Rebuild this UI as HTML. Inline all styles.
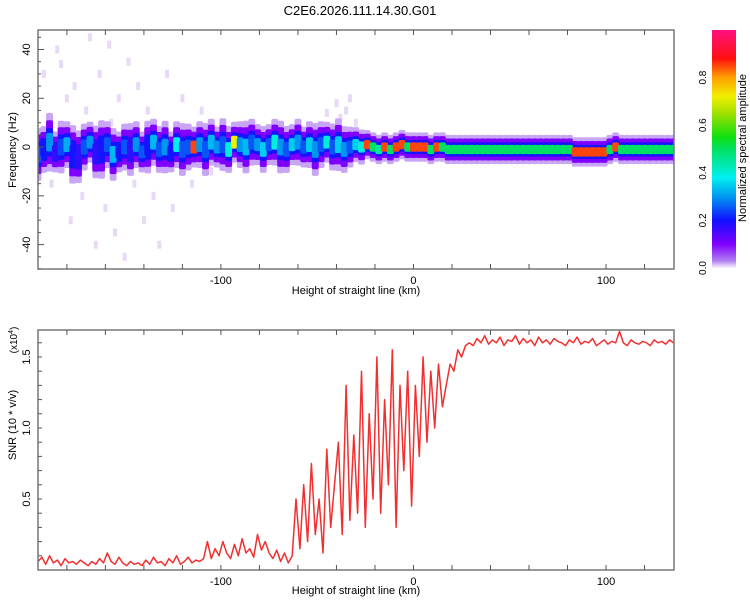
<!DOCTYPE html>
<html><head><meta charset="utf-8"><style>
body{margin:0;background:#fff;width:750px;height:600px;overflow:hidden;font-family:"Liberation Sans",sans-serif}
svg text{font-family:"Liberation Sans",sans-serif;fill:#000}
</style></head><body>
<svg id="c" width="750" height="600" xmlns="http://www.w3.org/2000/svg">
<defs><linearGradient id="cb" x1="0" y1="1" x2="0" y2="0">
<stop offset="0" stop-color="#fbf6ff"/><stop offset="0.03" stop-color="#b080f0"/><stop offset="0.1" stop-color="#8000ff"/>
<stop offset="0.2" stop-color="#1010ff"/><stop offset="0.3" stop-color="#0098f0"/><stop offset="0.38" stop-color="#00f0f0"/>
<stop offset="0.5" stop-color="#00e060"/><stop offset="0.55" stop-color="#10e010"/><stop offset="0.65" stop-color="#a0e000"/>
<stop offset="0.72" stop-color="#f0f000"/><stop offset="0.8" stop-color="#ffa000"/><stop offset="0.88" stop-color="#ff1010"/>
<stop offset="1" stop-color="#ff1080"/></linearGradient>
<clipPath id="clipTop"><rect x="38" y="30" width="636" height="239"/></clipPath>
<clipPath id="clipBot"><rect x="38" y="330" width="636" height="240"/></clipPath></defs>
<text x="360" y="15" font-size="13" text-anchor="middle">C2E6.2026.111.14.30.G01</text>
<g id="topPlot" clip-path="url(#clipTop)"></g>
<g id="botPlot" clip-path="url(#clipBot)"></g>
<g id="axes"></g>
<rect x="712" y="30" width="24" height="238" fill="url(#cb)"/>
<text transform="translate(746,148) rotate(-90)" font-size="11" text-anchor="middle">Normalized spectral amplitude</text>
<text transform="translate(16,150) rotate(-90)" font-size="11" text-anchor="middle">Frequency (Hz)</text>
<text x="356" y="294" font-size="11" text-anchor="middle">Height of straight line (km)</text>
<text transform="translate(16,425) rotate(-90)" font-size="11" text-anchor="middle">SNR (10 * v/v)</text>
<text transform="translate(17,340) rotate(-90)" font-size="10" text-anchor="middle">(x10<tspan dy="-4" font-size="7">4</tspan><tspan dy="4">)</tspan></text>
<text x="356" y="594" font-size="11" text-anchor="middle">Height of straight line (km)</text>
</svg>
<script>
const specHeights0 = -195, specStep = 3;
const specAmp = [0.25,0.2,0.3,0.18,0.24,0.32,0.2,0.18,0.25,0.3,0.18,0.2,0.25,0.33,0.2,0.25,0.18,0.3,0.25,0.2,0.33,0.25,0.3,0.2,0.38,0.25,0.25,0.85,0.3,0.25,0.33,0.3,0.25,0.4,0.7,0.3,0.33,0.25,0.3,0.35,0.25,0.4,0.3,0.25,0.35,0.3,0.25,0.35,0.3,0.25,0.4,0.25,0.35,0.3,0.25,0.35,0.4,
0.85,0.5,0.45,0.85,0.5,0.85,0.85,0.5,0.85,0.85,0.85,0.5,0.85,0.5,
0.5,0.5,0.5,0.5,0.5,0.5,0.5,0.5,0.5,0.5,0.5,0.5,0.5,0.5,0.5,0.5,0.5,0.5,0.5,0.5,0.5,0.5,
0.85,0.85,0.85,0.85,0.85,0.85,0.5,0.85,0.5,0.5,0.5,0.5,0.5,0.5,0.5,0.5,0.5,0.5];
const specCenter = [-3,-1,2,-2,0,1,-3,-4,0,2,-2,-1,1,-3,-2,0,-1,1,-2,0,2,-1,0,-2,1,-1,0,0,1,-1,2,0,1,-1,2,1,0,2,1,-1,1,2,0,-1,1,2,0,1,-1,1,2,0,1,-1,0,1,0,
1,0,-1,0,-1,0,1,0,0,0,0,-1,0,0,-1,-1,-1,-1,-1,-1,-1,-1,-1,-1,-1,-1,-1,-1,-1,-1,-1,-1,-1,-1,-1,-1,-2,-2,-2,-2,-2,-2,-1,0,-1,-1,-1,-1,-1,-1,-1,-1,-1,-1];
const specSpread = [9,8,10,7,9,8,10,9,8,7,9,10,8,9,7,8,9,8,7,9,8,8,9,7,8,9,8,7,8,9,8,7,9,8,7,8,9,8,7,8,7,8,9,8,7,8,7,8,9,8,7,8,9,8,7,6,6,
5,5,5,5,5,5,5,5,5,5,5,5,5,5,5,5,5,5,5,5,5,5,5,5,5,5,5,5,5,5,5,5,5,5,5,5,5,5,5,5,5,5,5,5,5,5,5,5,5,5,5,5,5,5];
const faintH = [-192,-188,-185,-183,-180,-178,-176,-172,-170,-168,-165,-163,-160,-158,-157,-155,-153,-150,-148,-145,-143,-140,-138,-135,-132,-128,-125,-120,-115,-110,-105,-35,-33,-38,-30,-40,-45];
const faintF = [30,-15,40,34,20,-30,25,-20,15,45,-40,30,-25,42,10,-35,20,-45,35,-15,25,-30,15,-20,-40,30,-25,20,-15,15,-10,15,20,12,10,18,14];
const snrStart = -195, snrStep = 2;
const snrValues = [0.06,0.09,0.04,0.1,0.05,0.07,0.03,0.08,0.05,0.06,0.04,0.07,0.05,0.03,0.06,0.04,0.08,0.05,0.12,0.06,0.04,0.09,0.05,0.03,0.06,0.04,0.05,0.03,0.07,0.04,0.09,0.05,0.06,0.03,0.08,0.05,0.1,0.04,0.06,0.09,0.05,0.07,0.06,0.08,
0.2,0.08,0.15,0.1,0.2,0.12,0.08,0.18,0.1,0.22,0.12,0.15,0.09,0.25,0.14,0.2,0.12,
0.08,0.14,0.06,0.12,0.05,0.1,
0.5,0.15,0.6,0.2,0.75,0.25,0.5,0.12,0.85,0.3,0.6,
0.9,0.25,1.3,0.35,0.95,0.4,1.4,0.3,1.1,0.5,
1.5,0.4,1.2,0.6,1.55,0.3,1.3,0.7,1.4,0.45,
1.3,0.8,1.5,0.9,1.4,1.0,1.45,1.15,
1.3,1.45,1.4,1.55,1.5,1.58,1.6,
1.58,1.63,1.6,1.65,1.59,1.62,1.6,1.64,1.58,1.62,1.61,1.65,1.59,1.63,1.6,1.62,1.58,1.64,1.6,1.62,1.59,1.63,1.61,1.6,1.58,1.62,1.6,1.64,1.59,1.61,1.6,1.63,1.58,1.6,1.62,1.59,1.61,1.6,1.68,1.6,1.58,1.62,1.6,1.59,1.61,1.6,1.58,1.62,1.6,1.61,1.59,1.62,1.6];
const xTicks = [-100,0,100];
const fTicks = [-40,-20,0,20,40];
const snrTicks = [0.5,1.0,1.5];
const cbTicks = [0.0,0.2,0.4,0.6,0.8];

const NS='http://www.w3.org/2000/svg';
const X0=38,X1=674,XMIN=-195,XMAX=135.3;
const xs=v=>X0+(v-XMIN)/(XMAX-XMIN)*(X1-X0);
const yf=v=>30+(48-v)/98*239;
const ys=v=>570-v/1.69*240;
const yc=v=>268-v/1.0*238;
function el(t,a,p){const e=document.createElementNS(NS,t);for(const k in a)e.setAttribute(k,a[k]);p.appendChild(e);return e;}
function cmap(a){const s=[[0,[250,245,255]],[0.05,[200,165,245]],[0.12,[128,0,255]],[0.2,[20,20,255]],[0.3,[0,150,240]],[0.38,[0,240,240]],[0.5,[0,225,100]],[0.6,[60,225,0]],[0.7,[240,240,0]],[0.8,[255,150,0]],[0.88,[255,20,20]],[1,[255,16,128]]];
for(let i=1;i<s.length;i++)if(a<=s[i][0]){const t=(a-s[i-1][0])/(s[i][0]-s[i-1][0]);const c=s[i-1][1].map((v,j)=>Math.round(v+(s[i][1][j]-v)*t));return 'rgb('+c.join(',')+')';}return 'rgb(255,16,128)';}
const topG=document.getElementById('topPlot'),botG=document.getElementById('botPlot'),axG=document.getElementById('axes');
faintH.forEach((h,i)=>{const r=el('rect',{x:xs(h)-2,y:yf(faintF[i])-4,width:4,height:8,fill:'#d8c0f4',opacity:0.6},topG);

});
const layers=[[1.2,0.05],[0.9,0.12],[0.58,0.2],[0.38,null]];
layers.forEach(([m,a])=>{specAmp.forEach((amp,i)=>{const h=specHeights0+i*specStep;const c=specCenter[i]||0;const sp=(specSpread[i]||5)*m;
const x=xs(h-specStep*0.6),w=xs(h+specStep*0.6)-x;
const fill=a===null?cmap(amp):cmap(Math.min(a,amp));
const r=el('rect',{x:x,y:yf(c+sp),width:w,height:yf(c-sp)-yf(c+sp),rx:2,fill:fill},topG);

});});
let d='';snrValues.forEach((v,i)=>{d+=(i?'L':'M')+xs(snrStart+i*snrStep).toFixed(1)+','+ys(v).toFixed(1);});
const ln=el('path',{d:d,fill:'none',stroke:'#f03030','stroke-width':1.5,'stroke-linejoin':'round'},botG);


[[30,269,'top-plot-frame'],[330,570,'bottom-plot-frame']].forEach(([y0,y1,n])=>{const f=el('rect',{x:X0,y:y0,width:X1-X0,height:y1-y0,fill:'none',stroke:'#777','stroke-width':1.5},axG);


for(let k=-180;k<=130;k+=20){el('line',{x1:xs(k),x2:xs(k),y1:y0,y2:y0+5,stroke:'#555'},axG);el('line',{x1:xs(k),x2:xs(k),y1:y1,y2:y1-5,stroke:'#555'},axG);}
xTicks.forEach(t=>{const tx=el('text',{x:xs(t),y:y1+15,'font-size':11,'text-anchor':'middle'},axG);tx.textContent=t;

});});
for(let f=-50;f<=45;f+=5)el('line',{x1:X0,x2:X0+(f%20===0?6:3),y1:yf(f),y2:yf(f),stroke:'#555'},axG);
fTicks.forEach(t=>{const tx=el('text',{transform:'translate(30,'+yf(t)+') rotate(-90)','font-size':11,'text-anchor':'middle'},axG);tx.textContent=t;

});
for(let s=0.1;s<1.69;s+=0.1)el('line',{x1:X0,x2:X0+4,y1:ys(s),y2:ys(s),stroke:'#555'},axG);
snrTicks.forEach(t=>{const tx=el('text',{transform:'translate(30,'+ys(t)+') rotate(-90)','font-size':11,'text-anchor':'middle'},axG);tx.textContent=t.toFixed(1);

});
cbTicks.forEach(t=>{const tx=el('text',{transform:'translate(706,'+yc(t)+') rotate(-90)','font-size':10,'text-anchor':'middle'},axG);tx.textContent=t.toFixed(1);

});
</script>
</body></html>
